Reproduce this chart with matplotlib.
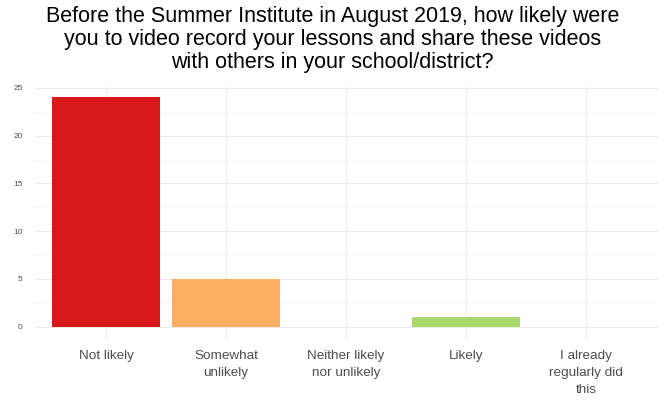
import matplotlib
matplotlib.use("Agg")
import matplotlib.pyplot as plt
from matplotlib.ticker import MultipleLocator

plt.rcParams['font.family'] = ['Liberation Sans', 'DejaVu Sans']

categories = ["Not likely", "Somewhat\nunlikely", "Neither likely\nnor unlikely",
              "Likely", "I already\nregularly did\nthis"]
counts = [24, 5, 0, 1, 0]
colors = ["#d7191c", "#fdae61", "#ffffbf", "#a6d96a", "#1a9641"]

title = ("Before the Summer Institute in August 2019, how likely were\n"
         "you to video record your lessons and share these videos\n"
         "with others in your school/district?")

fig = plt.figure(figsize=(6.65, 4.03), dpi=100)
ax = fig.add_axes([0.0511, 0.160, 0.9384, 0.6266])

x = list(range(1, len(categories) + 1))
ax.bar(x, counts, width=0.9, color=colors, zorder=2)

ax.set_xlim(0.4, 5.6)
ax.set_ylim(-1.25, 25.2)
ax.set_xticks(x)
ax.set_xticklabels(categories, fontsize=9.7, color="#4d4d4d", linespacing=1.55)
ax.yaxis.set_major_locator(MultipleLocator(5))
ax.yaxis.set_minor_locator(MultipleLocator(2.5))
ax.tick_params(axis="y", labelsize=6, labelcolor="#4d4d4d", length=0, pad=8)
ax.tick_params(axis="x", length=0, pad=8)
ax.tick_params(which="minor", length=0)

ax.grid(which="major", color="#ebebeb", linewidth=0.8, zorder=0)
ax.grid(which="minor", axis="y", color="#f2f2f2", linewidth=0.5, zorder=0)
for s in ax.spines.values():
    s.set_visible(False)

fig.text(0.5, 0.985, title, ha="center", va="top", fontsize=15.5, linespacing=1.13)

fig.savefig("out.png", dpi=100)
